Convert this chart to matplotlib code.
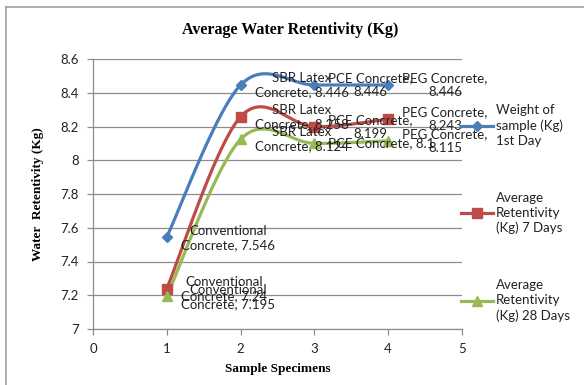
import numpy as np
import matplotlib
matplotlib.use("Agg")
import matplotlib.pyplot as plt
from matplotlib.lines import Line2D
from matplotlib.ticker import FuncFormatter

# chart data
specimens = [1, 2, 3, 4]
mix_names = ["Conventional Concrete", "SBR Latex Concrete", "PCE Concrete", "PEG Concrete"]
day1 = [7.546, 8.446, 8.446, 8.446]
day7 = [7.24, 8.258, 8.199, 8.243]
day28 = [7.195, 8.124, 8.1, 8.115]
series_names = ["Weight of\nsample (Kg)\n1st Day",
                "Average\nRetentivity\n(Kg) 7 Days",
                "Average\nRetentivity\n(Kg) 28 Days"]

# label text as the spreadsheet wrapped it
label_text = {
    0: ["Conventional\nConcrete, 7.546", "SBR Latex\nConcrete, 8.446", "PCE Concrete,\n8.446", "PEG Concrete,\n8.446"],
    1: ["Conventional\nConcrete, 7.24", "SBR Latex\nConcrete, 8.258", "PCE Concrete,\n8.199", "PEG Concrete,\n8.243"],
    2: ["Conventional\nConcrete, 7.195", "SBR Latex\nConcrete, 8.124", "PCE Concrete, 8.1", "PEG Concrete,\n8.115"],
}

colors = ["#4A7EBB", "#BE4B48", "#98B954"]
markers = ["D", "s", "^"]
msizes = [5.5, 6.5, 7]

label_font = "Lato"
title_font = "Liberation Serif"


def smooth(x, y, n=30):
    # Catmull-Rom style smoothing like the spreadsheet "smoothed line"
    p = np.column_stack([x, y]).astype(float)
    p = np.vstack([p[0], p, p[-1]])
    out = []
    t = np.linspace(0, 1, n)[:, None]
    for i in range(1, len(p) - 2):
        p0, p1, p2, p3 = p[i - 1], p[i], p[i + 1], p[i + 2]
        c1 = p1 + (p2 - p0) / 6
        c2 = p2 - (p3 - p1) / 6
        seg = ((1 - t) ** 3) * p1 + 3 * ((1 - t) ** 2) * t * c1 + 3 * (1 - t) * t ** 2 * c2 + t ** 3 * p2
        out.append(seg if i == 1 else seg[1:])
    s = np.vstack(out)
    return s[:, 0], s[:, 1]


fig = plt.figure(figsize=(5.84, 3.85), dpi=100)
ax = fig.add_axes([93 / 584, 56 / 385, (462 - 93) / 584, (329 - 59) / 385])

handles = []
for k, vals in enumerate([day1, day7, day28]):
    sx, sy = smooth(specimens, vals)
    ax.plot(sx, sy, color=colors[k], lw=2.3, solid_capstyle="round", zorder=3)
    ax.plot(specimens, vals, ls="none", marker=markers[k], ms=msizes[k],
            color=colors[k], zorder=4)
    handles.append(Line2D([], [], color=colors[k], lw=2.3, marker=markers[k], ms=msizes[k]))
    for i, (xv, yv) in enumerate(zip(specimens, vals)):
        dy = -1 if i == 0 else 0
        ax.annotate(label_text[k][i], (xv, yv), xytext=(14, dy), textcoords="offset pixels",
                    ha="left", va="center", multialignment="center",
                    fontsize=9.5, family=label_font, color="#222222", zorder=5,
                    linespacing=1.2)

ax.set_xlim(0, 5)
ax.set_ylim(7, 8.6)
ax.set_xticks(range(0, 6))
ax.set_yticks(np.arange(7, 8.61, 0.2))
ax.yaxis.set_major_formatter(FuncFormatter(lambda v, p: "%g" % round(v, 1)))
ax.grid(axis="y", color="#8c8c8c", lw=0.9)
ax.set_axisbelow(True)
for side in ["top", "right"]:
    ax.spines[side].set_visible(False)
for side in ["left", "bottom"]:
    ax.spines[side].set_color("#8c8c8c")
    ax.spines[side].set_linewidth(0.9)
ax.tick_params(direction="out", length=4, width=0.9, color="#8c8c8c",
               labelsize=9.5, labelcolor="#222222", pad=6)
for t in ax.get_xticklabels() + ax.get_yticklabels():
    t.set_family(label_font)

ax.set_xlabel("Sample Specimens", family=title_font, fontweight="bold", fontsize=9.5, labelpad=6)
ax.set_ylabel("Water  Retentivity (Kg)", family=title_font, fontweight="bold", fontsize=9.5, labelpad=12)
fig.text(290 / 584, 1 - 30 / 385, "Average Water Retentivity (Kg)", ha="center", va="center",
         family=title_font, fontweight="bold", fontsize=11.5)

leg = fig.legend(handles, series_names, loc="center left", bbox_to_anchor=(461 / 584, 1 - 213 / 385),
                 frameon=False, handlelength=2.4, handletextpad=0.25, labelspacing=3.4,
                 prop={"family": label_font, "size": 9.5}, borderaxespad=0, borderpad=0)
for t in leg.get_texts():
    t.set_linespacing(1.3)
    t.set_color("#222222")

# outer chart border (top and left edges visible)
fig.add_artist(Line2D([6 / 584, 1], [1 - 7 / 385, 1 - 7 / 385], color="#a0a0a0", lw=1.2))
fig.add_artist(Line2D([6 / 584, 6 / 584], [0, 1 - 7 / 385], color="#a0a0a0", lw=1.2))

fig.savefig("out.png", dpi=100)
